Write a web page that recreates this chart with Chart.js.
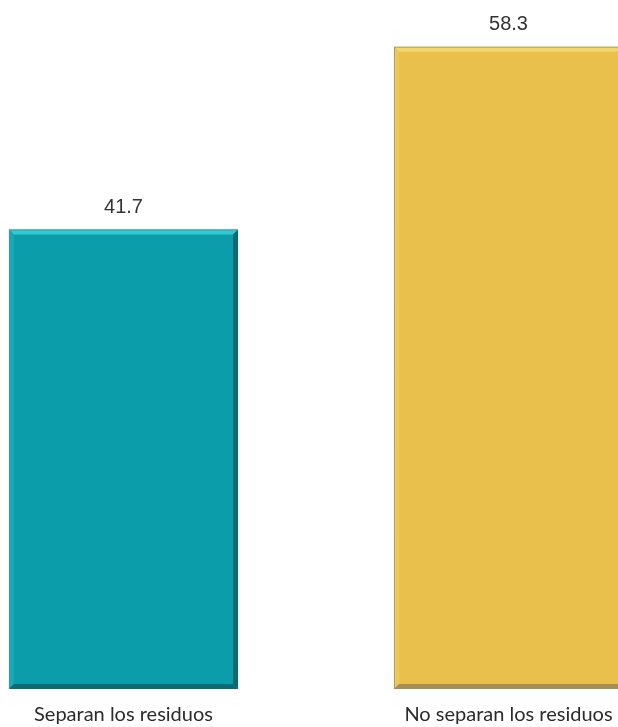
<!DOCTYPE html>
<html>
<head>
<meta charset="utf-8">
<script src="https://cdn.jsdelivr.net/npm/chart.js@4.4.1/dist/chart.umd.min.js"></script>
<style>
  html, body { margin: 0; padding: 0; background: #fff; overflow: hidden; }
  #wrap { position: absolute; left: -69px; top: 0; width: 770px; height: 733px; }
</style>
</head>
<body>
<div id="wrap"><canvas id="chart"></canvas></div>
<script>
// data
const categorias = ['Separan los residuos', 'No separan los residuos'];
const porcentajes = [41.7, 58.3];
const colores = ['#0c9dab', '#e8c04b'];
const bordeClaro = ['#30c9d6', '#f4d66a'];
const bordeOscuro = ['#0a6b74', '#a68f57'];
const bordeIzq = ['#17a9b6', '#ecc85a'];

// bevel look of the bars + value labels on top
const biselPlugin = {
  id: 'bisel',
  afterDatasetsDraw(chart) {
    const ctx = chart.ctx;
    const meta = chart.getDatasetMeta(0);
    const b = 5;
    meta.data.forEach((bar, i) => {
      const p = bar.getProps(['x', 'y', 'base', 'width'], true);
      const l = p.x - p.width / 2, r = p.x + p.width / 2;
      const t = p.y, bt = p.base;
      ctx.save();
      // top
      ctx.fillStyle = bordeClaro[i];
      ctx.beginPath();
      ctx.moveTo(l, t); ctx.lineTo(r, t); ctx.lineTo(r - b, t + b); ctx.lineTo(l + b, t + b);
      ctx.closePath(); ctx.fill();
      // left
      ctx.fillStyle = bordeIzq[i];
      ctx.beginPath();
      ctx.moveTo(l, t); ctx.lineTo(l + b, t + b); ctx.lineTo(l + b, bt - b); ctx.lineTo(l, bt);
      ctx.closePath(); ctx.fill();
      // right + bottom
      ctx.fillStyle = bordeOscuro[i];
      ctx.beginPath();
      ctx.moveTo(r, t); ctx.lineTo(r, bt); ctx.lineTo(r - b, bt - b); ctx.lineTo(r - b, t + b);
      ctx.closePath(); ctx.fill();
      ctx.beginPath();
      ctx.moveTo(l, bt); ctx.lineTo(r, bt); ctx.lineTo(r - b, bt - b); ctx.lineTo(l + b, bt - b);
      ctx.closePath(); ctx.fill();
      // thin grey outline on top and left
      ctx.strokeStyle = 'rgba(120,120,120,0.55)';
      ctx.lineWidth = 1;
      ctx.beginPath();
      ctx.moveTo(l + 0.5, bt); ctx.lineTo(l + 0.5, t + 0.5); ctx.lineTo(r, t + 0.5);
      ctx.stroke();

      ctx.fillStyle = '#333333';
      ctx.font = '20px "Liberation Sans", Arial, sans-serif';
      ctx.textAlign = 'center';
      ctx.textBaseline = 'alphabetic';
      ctx.fillText(porcentajes[i].toFixed(1), p.x, t - 17);
      ctx.restore();
    });
  }
};

new Chart(document.getElementById('chart'), {
  type: 'bar',
  data: {
    labels: categorias,
    datasets: [{
      data: porcentajes,
      backgroundColor: colores,
      borderWidth: 0,
      categoryPercentage: 1,
      barPercentage: 0.595
    }]
  },
  options: {
    responsive: true,
    maintainAspectRatio: false,
    animation: false,
    layout: { padding: { top: 28, left: 0, right: 0, bottom: 0 } },
    plugins: {
      legend: { display: false },
      tooltip: { enabled: false }
    },
    scales: {
      x: {
        grid: { display: false },
        border: { display: false },
        ticks: {
          padding: 6,
          color: '#2b2b2b',
          font: { family: 'Lato, "Open Sans", sans-serif', size: 20 }
        }
      },
      y: {
        display: false,
        min: 0,
        max: 60
      }
    }
  },
  plugins: [biselPlugin]
});
</script>
</body>
</html>
